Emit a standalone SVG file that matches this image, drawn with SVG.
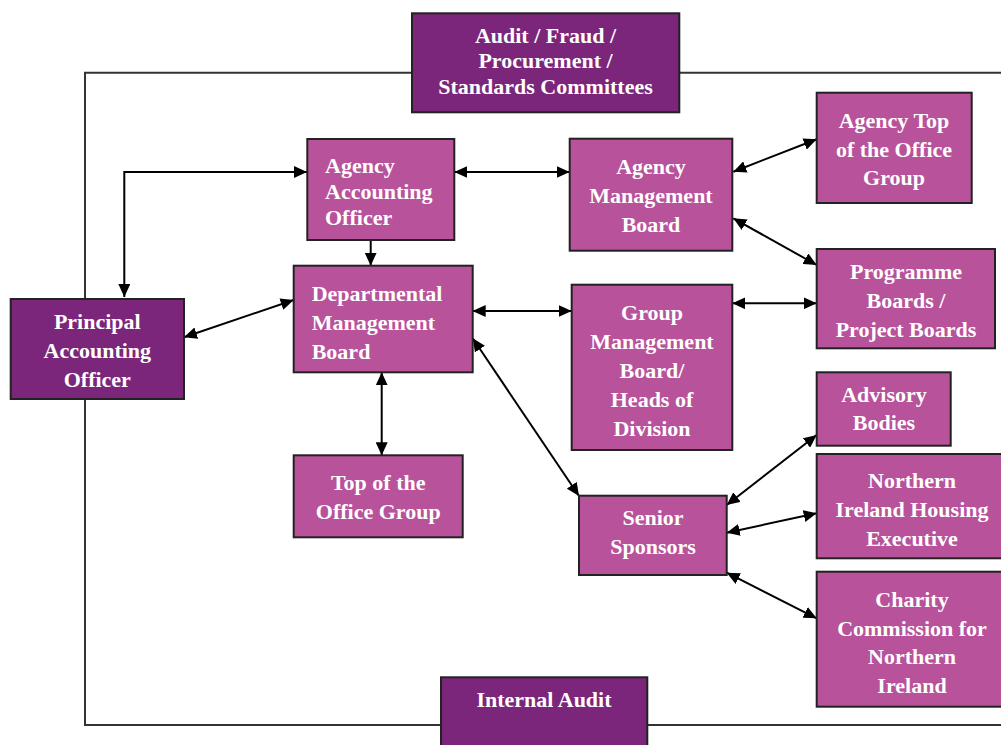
<svg xmlns="http://www.w3.org/2000/svg" width="1001" height="745" viewBox="0 0 1001 745">
<style>
.dark{fill:#7b267a;stroke:#222;stroke-width:2}
.light{fill:#b8529b;stroke:#222;stroke-width:2}
.t{font-family:"Liberation Serif","Times New Roman",serif;font-weight:bold;font-size:22px;fill:#fff}
.c{text-anchor:middle}
.frame{fill:none;stroke:#333;stroke-width:2}
.con{fill:none;stroke:#000;stroke-width:2;marker-end:url(#ah)}
.bi{marker-start:url(#ah)}
</style>
<defs>
<marker id="ah" viewBox="0 0 13 12" refX="13" refY="6" markerWidth="13" markerHeight="12" markerUnits="userSpaceOnUse" orient="auto-start-reverse">
<path d="M0,0 L13,6 L0,12 z" fill="#000"/>
</marker>
</defs>
<rect width="1001" height="745" fill="#fff"/>
<g id="frame">
<polyline class="frame" points="412,72.7 85,72.7 85,725 441,725"/>
<line class="frame" x1="679" y1="72.7" x2="1001" y2="72.7"/>
<line class="frame" x1="647" y1="725" x2="1001" y2="725"/>
</g>
<g id="connectors">
<polyline class="con bi" points="124.3,297 124.3,172 307,172"/>
<line class="con" x1="370.7" y1="240" x2="370.7" y2="265.7"/>
<line class="con bi" x1="454.3" y1="172" x2="569.7" y2="172"/>
<line class="con bi" x1="184" y1="337.3" x2="293.7" y2="300"/>
<line class="con bi" x1="381.7" y1="372.3" x2="381.7" y2="455.3"/>
<line class="con bi" x1="472.7" y1="311" x2="571.7" y2="311"/>
<line class="con bi" x1="472.7" y1="338.3" x2="579" y2="496"/>
<line class="con bi" x1="733.3" y1="171.7" x2="816.7" y2="139.3"/>
<line class="con bi" x1="733.3" y1="218.3" x2="816.7" y2="265"/>
<line class="con bi" x1="732.3" y1="303.3" x2="816.7" y2="303.3"/>
<line class="con bi" x1="726.7" y1="505" x2="816.7" y2="435"/>
<line class="con bi" x1="726.7" y1="532.7" x2="816.7" y2="513.3"/>
<line class="con bi" x1="726.7" y1="572.7" x2="816.7" y2="618.3"/>
</g>
<g id="audit">
<rect class="dark" x="412" y="13.3" width="267.3" height="99"/>
<text class="t c" x="545.5"><tspan x="545.5" y="42.7">Audit / Fraud /</tspan><tspan x="545.5" y="68.3">Procurement /</tspan><tspan x="545.5" y="94">Standards Committees</tspan></text>
</g>
<g id="internal-audit">
<rect class="dark" x="441" y="677.3" width="206.3" height="80"/>
<text class="t c" x="544" y="707">Internal Audit</text>
</g>
<g id="pao">
<rect class="dark" x="10.7" y="299" width="173.3" height="100"/>
<text class="t c"><tspan x="97.3" y="329">Principal</tspan><tspan x="97.3" y="358">Accounting</tspan><tspan x="97.3" y="387">Officer</tspan></text>
</g>
<g id="aao">
<rect class="light" x="307.3" y="139" width="147" height="101"/>
<text class="t"><tspan x="325" y="173">Agency</tspan><tspan x="325" y="199">Accounting</tspan><tspan x="325" y="224.5">Officer</tspan></text>
</g>
<g id="dmb">
<rect class="light" x="293.7" y="265.7" width="179" height="106.6"/>
<text class="t"><tspan x="311.7" y="301">Departmental</tspan><tspan x="311.7" y="330">Management</tspan><tspan x="311.7" y="358.5">Board</tspan></text>
</g>
<g id="tog">
<rect class="light" x="293.7" y="455.3" width="169" height="82"/>
<text class="t c"><tspan x="378.2" y="490">Top of the</tspan><tspan x="378.2" y="519.3">Office Group</tspan></text>
</g>
<g id="amb">
<rect class="light" x="569.7" y="138.7" width="162.6" height="112"/>
<text class="t c"><tspan x="651" y="174">Agency</tspan><tspan x="651" y="203">Management</tspan><tspan x="651" y="231.7">Board</tspan></text>
</g>
<g id="gmb">
<rect class="light" x="571.7" y="284.7" width="160.6" height="165.3"/>
<text class="t c"><tspan x="652" y="320">Group</tspan><tspan x="652" y="348.7">Management</tspan><tspan x="652" y="377.7">Board/</tspan><tspan x="652" y="406.7">Heads of</tspan><tspan x="652" y="435.7">Division</tspan></text>
</g>
<g id="ss">
<rect class="light" x="579" y="495.7" width="147.7" height="79.3"/>
<text class="t c"><tspan x="653" y="525">Senior</tspan><tspan x="653" y="554">Sponsors</tspan></text>
</g>
<g id="atog">
<rect class="light" x="816.7" y="92.7" width="155" height="110.3"/>
<text class="t c"><tspan x="894" y="128">Agency Top</tspan><tspan x="894" y="157">of the Office</tspan><tspan x="894" y="185">Group</tspan></text>
</g>
<g id="pb">
<rect class="light" x="816.7" y="249" width="178.3" height="99.3"/>
<text class="t c"><tspan x="906" y="279.3">Programme</tspan><tspan x="906" y="308.3">Boards /</tspan><tspan x="906" y="336.7">Project Boards</tspan></text>
</g>
<g id="ab">
<rect class="light" x="816.7" y="372.3" width="134" height="73.4"/>
<text class="t c"><tspan x="884" y="401.7">Advisory</tspan><tspan x="884" y="430">Bodies</tspan></text>
</g>
<g id="nihe">
<rect class="light" x="816.7" y="454" width="190" height="104.3"/>
<text class="t c"><tspan x="912" y="488.3">Northern</tspan><tspan x="912" y="516.7">Ireland Housing</tspan><tspan x="912" y="546">Executive</tspan></text>
</g>
<g id="charity">
<rect class="light" x="816.7" y="571.7" width="190" height="135"/>
<text class="t c"><tspan x="912" y="606.7">Charity</tspan><tspan x="912" y="635.7">Commission for</tspan><tspan x="912" y="664">Northern</tspan><tspan x="912" y="692.7">Ireland</tspan></text>
</g>
</svg>
